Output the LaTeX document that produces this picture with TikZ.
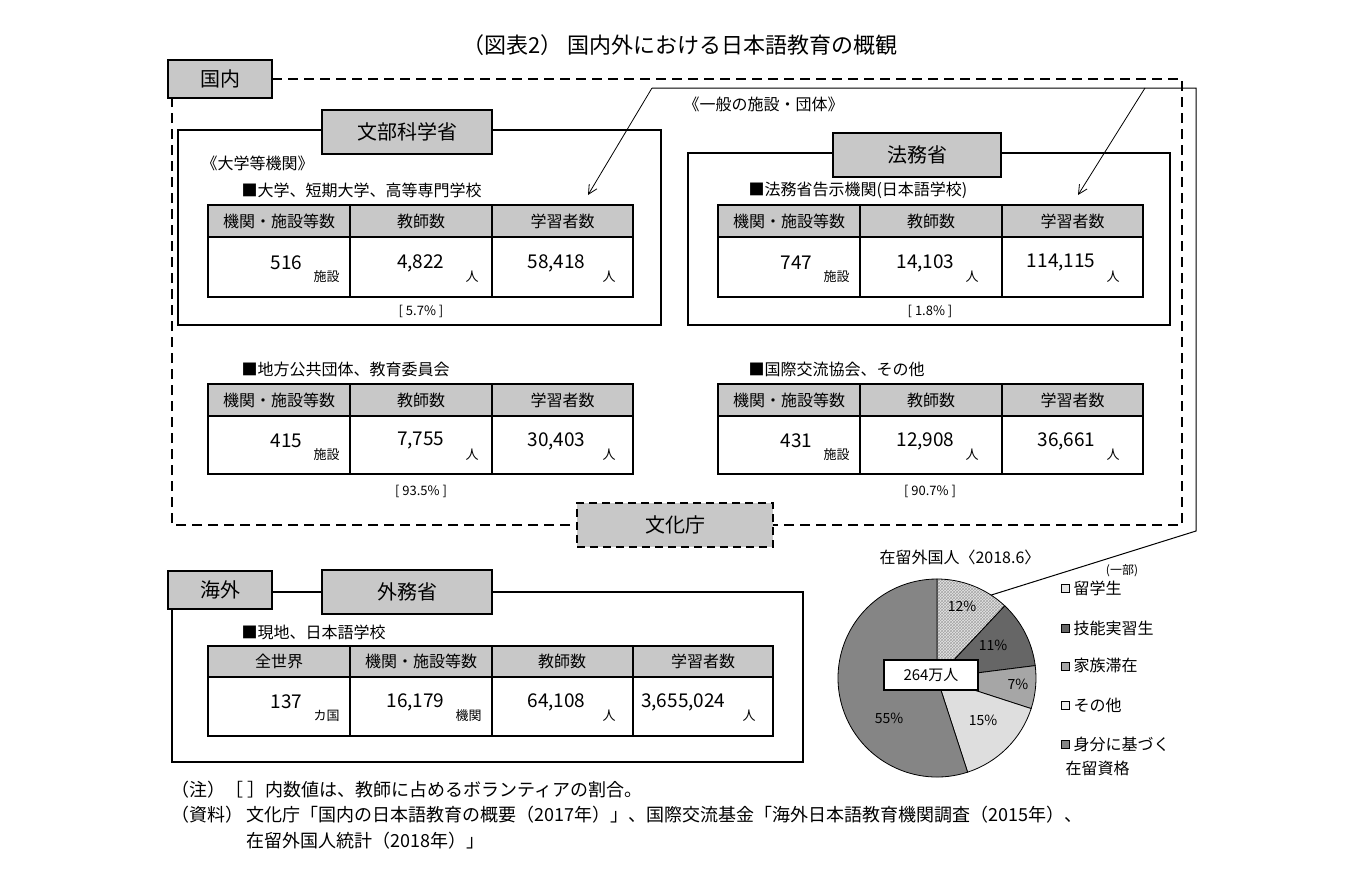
\documentclass[tikz,border=0pt]{standalone}
\usepackage{fontspec}
\setmainfont{Noto Sans CJK JP}
\usetikzlibrary{patterns,arrows.meta}
\definecolor{hdr}{HTML}{C8C8C8}
\tikzset{
  lab/.style={draw,line width=2.2pt,fill=hdr,font=\fontsize{20}{23}\selectfont},
  frame/.style={line width=2.2pt},
  tbl/.style={line width=1.6pt},
  th/.style={font=\fontsize{16}{19}\selectfont},
  num/.style={font=\fontsize{19}{22}\selectfont,anchor=east},
  unit/.style={font=\fontsize{13}{15}\selectfont,anchor=west},
  txt/.style={font=\fontsize{16}{19}\selectfont,anchor=west},
  note/.style={font=\fontsize{18}{21}\selectfont,anchor=west},
  pct/.style={font=\fontsize{14}{16}\selectfont},
}
\newcommand{\datcell}[5]{% xright ymid num unit name
  \node[num] (#5n) at (#1-44,#2-4) {#3};
  \node[unit] (#5u) at (#1-40,#2+10) {#4};}
\begin{document}
\begin{tikzpicture}[x=1pt,y=-1pt]
\useasboundingbox[fill=white] (0,0) rectangle (1358,889);
\node[font=\fontsize{22}{25}\selectfont] (title) at (680,45) {（図表2）\ 国内外における日本語教育の概観};
% domestic dashed region
\draw[line width=2.2pt,dash pattern=on 10pt off 6pt] (272,79) -- (1182,79) -- (1182,525) -- (172,525) -- (172,98);
\node[lab,minimum width=104pt,minimum height=38pt] (kokunai) at (220,79) {国内};
\node[lab,dash pattern=on 8pt off 5pt,minimum width=196pt,minimum height=44pt] (bunka) at (675,525) {文化庁};
% long solid connector
\coordinate (c1) at (652,88);
\coordinate (c2) at (1196,88);
\coordinate (c3) at (1196,531);
\coordinate (c4) at (985,597);
\draw[line width=1pt] (c1) -- (c2) -- (c3) -- (c4);
\coordinate (a1) at (588,195);
\coordinate (a2) at (1145,88);
\coordinate (a3) at (1078,195);
\draw[line width=0.8pt,-{Straight Barb[length=9pt,width=9pt]}] (c1) -- (a1);
\draw[line width=0.8pt,-{Straight Barb[length=9pt,width=9pt]}] (a2) -- (a3);
\node[txt] (ippan) at (680,104) {《一般の施設・団体》};
% MEXT
\draw[frame] (178,130) rectangle (661,325);
\node[lab,minimum width=170pt,minimum height=44pt] (mext) at (407,132) {文部科学省};
\node[txt] (daigaku) at (198,163) {《大学等機関》};
% MOJ
\draw[frame] (688,153) rectangle (1170,325);
\node[lab,minimum width=168pt,minimum height=44pt] (moj) at (917,155) {法務省};
% tables
\foreach \xa/\xb/\xc/\xd/\ya/\yb/\yc in {208/350/492/633/205/237/297, 718/860/1002/1143/205/237/297, 208/350/492/633/384/416/474, 718/860/1002/1143/384/416/474}{
  \fill[hdr] (\xa,\ya) rectangle (\xd,\yb);
  \draw[tbl] (\xa,\ya) rectangle (\xd,\yc);
  \draw[tbl] (\xa,\yb) -- (\xd,\yb) (\xb,\ya) -- (\xb,\yc) (\xc,\ya) -- (\xc,\yc);
  \node[th] at ({(\xa+\xb)/2},{(\ya+\yb)/2}) {機関・施設等数};
  \node[th] at ({(\xb+\xc)/2},{(\ya+\yb)/2}) {教師数};
  \node[th] at ({(\xc+\xd)/2},{(\ya+\yb)/2}) {学習者数};
}
\node[txt] (t1) at (238,190) {■大学、短期大学、高等専門学校};
\datcell{350}{267}{516}{施設}{a}
\datcell{492}{267}{4,822}{\hspace{10pt}人}{b}
\datcell{633}{267}{58,418}{\hspace{6pt}人}{c}
\node[font=\fontsize{13}{15}\selectfont] (p1) at (421,311) {[ 5.7\% ]};
\node[txt] (t2) at (745,190) {■法務省告示機関(日本語学校)};
\datcell{860}{267}{747}{施設}{d}
\datcell{1002}{267}{14,103}{人}{e}
\datcell{1143}{267}{114,115}{人}{f}
\node[font=\fontsize{13}{15}\selectfont] (p2) at (930,311) {[ 1.8\% ]};
\node[txt] (t3) at (238,369) {■地方公共団体、教育委員会};
\datcell{350}{445}{415}{施設}{g}
\datcell{492}{445}{7,755}{\hspace{10pt}人}{h}
\datcell{633}{445}{30,403}{\hspace{6pt}人}{i}
\node[font=\fontsize{13}{15}\selectfont] (p3) at (421,491) {[ 93.5\% ]};
\node[txt] (t4) at (745,369) {■国際交流協会、その他};
\datcell{860}{445}{431}{施設}{j}
\datcell{1002}{445}{12,908}{人}{k}
\datcell{1143}{445}{36,661}{人}{l}
\node[font=\fontsize{13}{15}\selectfont] (p4) at (930,491) {[ 90.7\% ]};
% overseas
\draw[frame] (172,609) -- (172,762) -- (803,762) -- (803,592) -- (272,592);
\node[lab,minimum width=104pt,minimum height=38pt] (kaigai) at (220,590) {海外};
\node[lab,minimum width=170pt,minimum height=44pt] (mofa) at (407,592) {外務省};
\node[txt] (t5) at (238,632) {■現地、日本語学校};
\fill[hdr] (208,646) rectangle (773,677);
\draw[tbl] (208,646) rectangle (773,736);
\draw[tbl] (208,677) -- (773,677) (350,646) -- (350,736) (492,646) -- (492,736) (633,646) -- (633,736);
\node[th] at (279,661) {全世界};
\node[th] at (421,661) {機関・施設等数};
\node[th] at (562,661) {教師数};
\node[th] at (703,661) {学習者数};
\datcell{350}{706}{137}{カ国}{m}
\datcell{492}{706}{16,179}{機関}{n}
\datcell{633}{706}{64,108}{\hspace{6pt}人}{o}
\datcell{773}{706}{3,655,024}{\hspace{6pt}人}{q}
% pie (y axis flipped: angles negated)
\def\r{99}
\coordinate (pc) at (937,678);
\fill[gray!20] (pc) -- +(-90:\r) arc[start angle=-90,end angle=-46.8,radius=\r] -- cycle;
\draw[pattern=crosshatch,pattern color=gray!70,line width=0.8pt] (pc) -- +(-90:\r) arc[start angle=-90,end angle=-46.8,radius=\r] -- cycle;
\draw[fill=black!60,line width=0.8pt] (pc) -- +(-46.8:\r) arc[start angle=-46.8,end angle=-7.2,radius=\r] -- cycle;
\draw[fill=black!35,line width=0.8pt] (pc) -- +(-7.2:\r) arc[start angle=-7.2,end angle=18,radius=\r] -- cycle;
\draw[fill=black!13,line width=0.8pt] (pc) -- +(18:\r) arc[start angle=18,end angle=72,radius=\r] -- cycle;
\draw[fill=black!48,line width=0.8pt] (pc) -- +(72:\r) arc[start angle=72,end angle=270,radius=\r] -- cycle;
\node[pct] at (962,606) {12\%};
\node[pct] at (993,645) {11\%};
\node[pct] at (1018,684) {7\%};
\node[pct] at (983,720) {15\%};
\node[pct] at (889,718) {55\%};
\node[draw,fill=white,line width=1.2pt,minimum width=94pt,minimum height=30pt,font=\fontsize{15}{17}\selectfont] (total) at (931,675) {264万人};
\node[font=\fontsize{16}{19}\selectfont] (ptitle) at (960,557) {在留外国人〈2018.6〉};
\node[font=\fontsize{12}{14}\selectfont] (ichibu) at (1122,571) {(一部)};
\foreach \y/\c/\t in {588/gray!20/留学生, 628/black!60/技能実習生, 666/black!35/家族滞在, 705/black!8/その他, 744/black!48/身分に基づく}{
  \draw[line width=1pt,fill=\c] (1061,\y-4) rectangle (1069,\y+4);
  \node[txt] at (1070,\y) {\t};
}
\node[txt] (leg6) at (1062,768) {在留資格};
% notes
\node[note] (n1) at (168,790) {（注）［ ］内数値は、教師に占めるボランティアの割合。};
\node[note] (n2) at (168,815) {（資料）\,文化庁「国内の日本語教育の概要（2017年）」、国際交流基金「海外日本語教育機関調査（2015年）、};
\node[note] (n3) at (243,841) {在留外国人統計（2018年）」};
\end{tikzpicture}
\end{document}
